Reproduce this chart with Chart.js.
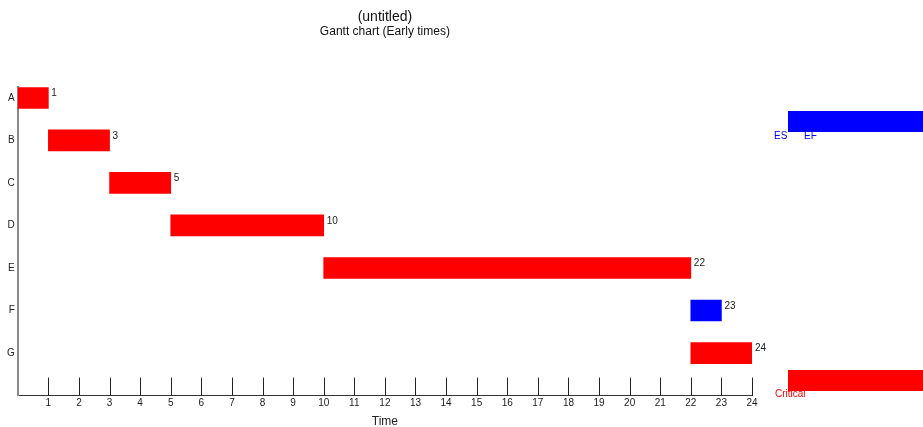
<!DOCTYPE html>
<html>
<head>
<meta charset="utf-8">
<script src="https://cdn.jsdelivr.net/npm/chart.js@4"></script>
<style>
  html, body { margin: 0; padding: 0; background: #fff; }
  #wrap { width: 923px; height: 427px; }
</style>
</head>
<body>
<div id="wrap"><canvas id="gantt" width="923" height="427"></canvas></div>
<script>
// task data (early times)
const tasks = ['A', 'B', 'C', 'D', 'E', 'F', 'G'];
const earlyStart = [0, 1, 3, 5, 10, 22, 22];
const earlyFinish = [1, 3, 5, 10, 22, 23, 24];
const critical = [true, true, true, true, true, false, true];
const timeTicks = [1, 2, 3, 4, 5, 6, 7, 8, 9, 10, 11, 12, 13, 14, 15, 16, 17, 18, 19, 20, 21, 22, 23, 24];

const RED = '#ff0000';
const BLUE = '#0000ff';
const FONT = 'Arial, "Liberation Sans", sans-serif';

// tick marks drawn upward from the time axis
const upTicks = {
    id: 'upTicks',
    afterDraw(chart) {
        const ctx = chart.ctx;
        const xs = chart.scales.x;
        const bottom = chart.chartArea.bottom;
        ctx.save();
        ctx.strokeStyle = '#222';
        ctx.lineWidth = 1;
        timeTicks.forEach(function (t) {
            const px = Math.round(xs.getPixelForValue(t)) + 0.5;
            ctx.beginPath();
            ctx.moveTo(px, bottom);
            ctx.lineTo(px, bottom - 18);
            ctx.stroke();
        });
        ctx.restore();
    }
};

// finish time written next to each bar
const endLabels = {
    id: 'endLabels',
    afterDatasetsDraw(chart) {
        const ctx = chart.ctx;
        const meta = chart.getDatasetMeta(0);
        ctx.save();
        ctx.font = '10px ' + FONT;
        ctx.fillStyle = '#222';
        ctx.textAlign = 'left';
        ctx.textBaseline = 'middle';
        meta.data.forEach(function (bar, i) {
            const top = bar.y - bar.height / 2;
            ctx.fillText(String(earlyFinish[i]), bar.x + 3, top + 6);
        });
        ctx.restore();
    }
};

// legend boxes on the right
const sideLegend = {
    id: 'sideLegend',
    afterDraw(chart) {
        const ctx = chart.ctx;
        const area = chart.chartArea;
        const x0 = area.right + 36;
        ctx.save();
        ctx.font = '10px ' + FONT;
        ctx.textBaseline = 'middle';
        ctx.textAlign = 'left';

        ctx.fillStyle = BLUE;
        ctx.fillRect(x0, 111, chart.width - x0, 21);
        ctx.fillText('ES', area.right + 22, 136);
        ctx.fillText('EF', area.right + 52, 136);

        ctx.fillStyle = RED;
        ctx.fillRect(x0, 370, chart.width - x0, 21);
        ctx.fillText('Critical', area.right + 23, 394);
        ctx.restore();
    }
};

const ctx = document.getElementById('gantt').getContext('2d');
new Chart(ctx, {
    type: 'bar',
    data: {
        datasets: [{
            label: 'Early times',
            data: tasks.map(function (t, i) {
                return { x: [earlyStart[i], earlyFinish[i]], y: i };
            }),
            backgroundColor: critical.map(function (c) { return c ? RED : BLUE; }),
            borderWidth: 0,
            barThickness: 21,
            grouped: false
        }]
    },
    options: {
        indexAxis: 'y',
        responsive: false,
        animation: false,
        layout: { padding: { left: 4, right: 171, top: 0, bottom: -2 } },
        scales: {
            x: {
                type: 'linear',
                min: 0,
                max: 24,
                afterBuildTicks: function (scale) {
                    scale.ticks = timeTicks.map(function (v) { return { value: v }; });
                },
                ticks: {
                    autoSkip: false,
                    maxRotation: 0,
                    padding: 2,
                    color: '#222',
                    font: { family: FONT, size: 10 }
                },
                grid: { drawOnChartArea: false, drawTicks: false },
                border: { display: true, color: '#333', width: 1 },
                title: {
                    display: true,
                    text: 'Time',
                    color: '#222',
                    font: { family: FONT, size: 12 },
                    padding: { top: 3, bottom: 0 }
                }
            },
            y: {
                type: 'linear',
                reverse: true,
                offset: false,
                min: -0.25,
                max: 7,
                afterBuildTicks: function (scale) {
                    scale.ticks = tasks.map(function (t, i) { return { value: i }; });
                },
                ticks: {
                    padding: 3,
                    color: '#222',
                    font: { family: FONT, size: 10 },
                    callback: function (v) { return tasks[v]; }
                },
                grid: { drawOnChartArea: false, drawTicks: false },
                border: { display: true, color: '#888', width: 2 }
            }
        },
        plugins: {
            legend: { display: false },
            tooltip: { enabled: false },
            title: {
                display: true,
                fullSize: false,
                text: '(untitled)',
                color: '#111',
                font: { family: FONT, size: 14, weight: 'normal' },
                padding: { top: 9, bottom: 0 }
            },
            subtitle: {
                display: true,
                fullSize: false,
                text: 'Gantt chart (Early times)',
                color: '#111',
                font: { family: FONT, size: 12, weight: 'normal' },
                padding: { top: -1, bottom: 48 }
            }
        }
    },
    plugins: [upTicks, endLabels, sideLegend]
});
</script>
</body>
</html>
